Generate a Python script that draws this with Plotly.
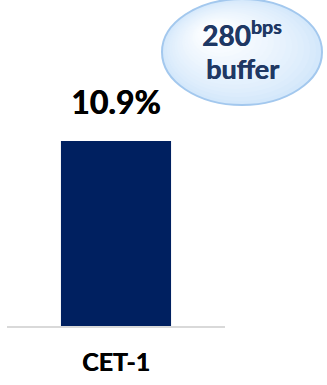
import plotly.graph_objects as go

# Data
categories = ["CET-1"]
values = [10.9]
buffer_bps = 280

W, H = 327, 385
ML, MR, MT, MB = 7, 102, 0, 59
plot_w = W - ML - MR
plot_h = H - MT - MB
px_per_unit = 185 / 10.9
y_max = plot_h / px_per_unit


def px_to_paper(px, py):
    return (px - ML) / plot_w, (H - MB - py) / plot_h


fig = go.Figure()
fig.add_trace(go.Bar(
    x=categories, y=values, width=0.505,
    marker=dict(color="#002060", line=dict(width=0)),
    hoverinfo="skip",
))

# Value label above the bar
fig.add_annotation(
    x=categories[0], y=values[0], xref="x", yref="y",
    text=f"<b>{values[0]}%</b>", showarrow=False,
    yanchor="bottom", yshift=18,
    font=dict(family="Lato", size=32, color="#000000",
              shadow="0.6px 0 0 #000000"),
)

# Callout bubble with a soft diagonal gradient (stacked ellipses)
ex0, ex1, ey0, ey1 = 162, 322, -1, 105
outer = (212, 232, 251)
inner = (251, 253, 255)
steps = 16
shapes = []
for i in range(steps):
    t = i / (steps - 1)
    s = 1 - 0.8 * t
    cx = (ex0 + ex1) / 2 - 26 * t
    cy = (ey0 + ey1) / 2 - 18 * t
    hw = (ex1 - ex0) / 2 * s
    hh = (ey1 - ey0) / 2 * s
    c = tuple(round(o + (n - o) * t ** 0.8) for o, n in zip(outer, inner))
    a = px_to_paper(cx - hw, cy + hh)
    b = px_to_paper(cx + hw, cy - hh)
    shapes.append(dict(
        type="circle", xref="paper", yref="paper",
        x0=a[0], y0=a[1], x1=b[0], y1=b[1],
        fillcolor=f"rgb{c}", line=dict(width=0), layer="above",
    ))
a = px_to_paper(ex0, ey1)
b = px_to_paper(ex1, ey0)
shapes.append(dict(
    type="circle", xref="paper", yref="paper",
    x0=a[0], y0=a[1], x1=b[0], y1=b[1],
    fillcolor="rgba(0,0,0,0)", line=dict(color="#a3c8ee", width=2), layer="above",
))

tx, ty1 = px_to_paper(242, 34)
_, ty2 = px_to_paper(242, 68)
fig.add_annotation(
    x=tx, y=ty1, xref="paper", yref="paper", showarrow=False,
    text=f"<b>{buffer_bps}<sup>bps</sup></b>",
    font=dict(family="Lato", size=28, color="#1f3864",
              shadow="0.5px 0 0 #1f3864"),
    xanchor="center", yanchor="middle",
)
fig.add_annotation(
    x=tx, y=ty2, xref="paper", yref="paper", showarrow=False,
    text="<b>buffer</b>",
    font=dict(family="Lato", size=27, color="#1f3864",
              shadow="0.5px 0 0 #1f3864"),
    xanchor="center", yanchor="middle",
)

fig.update_layout(
    width=W, height=H,
    margin=dict(l=ML, r=MR, t=MT, b=MB),
    paper_bgcolor="white", plot_bgcolor="white",
    showlegend=False,
    shapes=shapes,
    xaxis=dict(
        showline=True, linecolor="#d9d9d9", linewidth=2,
        showgrid=False, zeroline=False, ticks="",
        tickfont=dict(family="Lato", size=25, color="#000000",
                      shadow="0.5px 0 0 #000000"),
        ticklabelstandoff=13,
        tickvals=categories, ticktext=[f"<b>{c}</b>" for c in categories],
        fixedrange=True,
    ),
    yaxis=dict(
        range=[0, y_max], visible=False, showgrid=False, zeroline=False,
        fixedrange=True,
    ),
)

fig.write_html("out.html", config={"displayModeBar": False})
